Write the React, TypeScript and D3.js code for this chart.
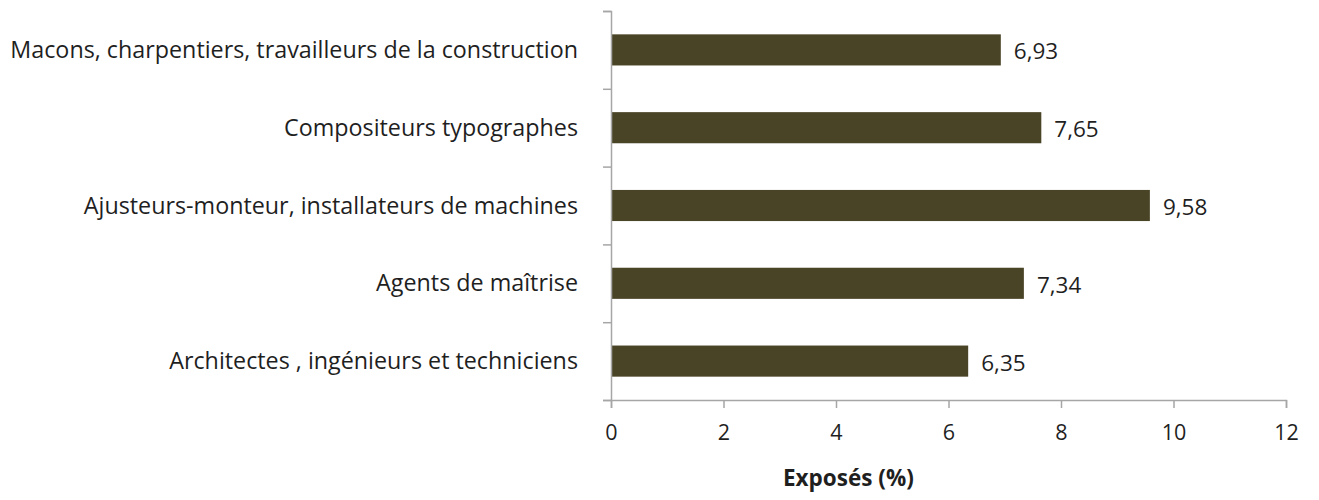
import React, { useRef, useEffect } from "react";
import { select, scaleLinear, scaleBand, axisBottom, axisLeft } from "d3";

const categories = [
  "Macons, charpentiers, travailleurs de la construction",
  "Compositeurs typographes",
  "Ajusteurs-monteur, installateurs de machines",
  "Agents de maîtrise",
  "Architectes , ingénieurs et techniciens",
];
const values = [6.93, 7.65, 9.58, 7.34, 6.35];
const xTicks = [0, 2, 4, 6, 8, 10, 12];
const xTitle = "Exposés (%)";

const width = 1319;
const height = 500;
const margin = { top: 11, right: 33, bottom: 100, left: 611 };
const font = "'Open Sans', sans-serif";
const textColor = "#1f1f1f";

export default function App() {
  const svgRef = useRef<SVGSVGElement>(null);

  useEffect(() => {
    const svg = select(svgRef.current);
    svg.selectAll("*").remove();

    const xScale = scaleLinear()
      .domain([0, 12])
      .range([margin.left, width - margin.right]);
    const yScale = scaleBand()
      .domain(categories)
      .range([margin.top, height - margin.bottom])
      .paddingInner(0.6)
      .paddingOuter(0.3);

    // bars
    svg
      .append("g")
      .selectAll("rect")
      .data(values)
      .join("rect")
      .attr("x", xScale(0))
      .attr("y", (d, i) => yScale(categories[i]))
      .attr("width", (d) => xScale(d) - xScale(0))
      .attr("height", yScale.bandwidth())
      .attr("fill", "#4a4426");

    // value labels
    svg
      .append("g")
      .selectAll("text")
      .data(values)
      .join("text")
      .attr("x", (d) => xScale(d) + 13)
      .attr("y", (d, i) => yScale(categories[i]) + yScale.bandwidth() / 2)
      .attr("dy", "0.42em")
      .attr("font-family", font)
      .attr("font-size", 22.5)
      .attr("fill", textColor)
      .text((d) => d.toFixed(2).replace(".", ","));

    // x axis
    const xAxis = svg
      .append("g")
      .attr("transform", `translate(0,${height - margin.bottom})`)
      .call(
        axisBottom(xScale).tickValues(xTicks).tickSize(8).tickSizeOuter(8).tickPadding(17)
      );
    xAxis.selectAll("path, line").attr("stroke", "#a6a6a6").attr("stroke-width", 1.5);
    xAxis
      .selectAll("text")
      .attr("font-family", font)
      .attr("font-size", 21.5)
      .attr("fill", textColor);

    // y axis, ticks between categories
    const yLine = scaleLinear()
      .domain([0, categories.length])
      .range([margin.top, height - margin.bottom]);
    const yAxis = svg
      .append("g")
      .attr("transform", `translate(${margin.left},0)`)
      .call(
        axisLeft(yLine)
          .tickValues([0, 1, 2, 3, 4, 5])
          .tickSize(8)
          .tickSizeOuter(8)
          .tickFormat(() => "")
      );
    yAxis.selectAll("path, line").attr("stroke", "#a6a6a6").attr("stroke-width", 1.5);

    // category labels
    svg
      .append("g")
      .selectAll("text")
      .data(categories)
      .join("text")
      .attr("x", margin.left - 33)
      .attr("y", (d) => yScale(d) + yScale.bandwidth() / 2)
      .attr("dy", "0.35em")
      .attr("text-anchor", "end")
      .attr("font-family", font)
      .attr("font-size", 23.3)
      .attr("fill", textColor)
      .text((d) => d);

    // axis title sits left of the axis centre in the original
    svg
      .append("text")
      .attr("x", xScale(4.22))
      .attr("y", 486)
      .attr("text-anchor", "middle")
      .attr("font-family", font)
      .attr("font-weight", "bold")
      .attr("font-size", 22.5)
      .attr("fill", textColor)
      .text(xTitle);
  }, []);

  return (
    <div style={{ margin: -8 }}>
      <svg ref={svgRef} width={width} height={height} style={{ display: "block" }} />
    </div>
  );
}
